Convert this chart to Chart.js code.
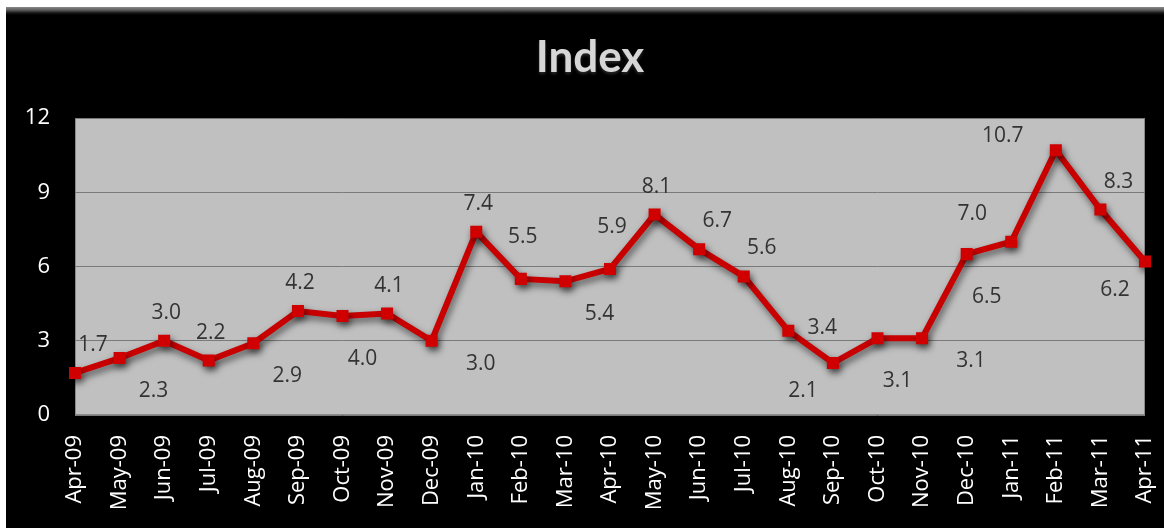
<!DOCTYPE html>
<html><head><meta charset="utf-8">
<script src="https://cdn.jsdelivr.net/npm/chart.js@4/dist/chart.umd.min.js"></script>
<style>
html,body{margin:0;padding:0;background:#fff;width:1164px;height:531px;overflow:hidden}
#box{position:absolute;left:6px;top:7px;width:1158px;height:521px;background:linear-gradient(to bottom,#8a8a8a 0px,#5e5e5e 3px,#151515 6px,#000 8px,#000 100%)}
#box canvas{position:absolute;left:0;top:0}
</style></head><body>
<div id="box"><canvas id="c" width="1158" height="521"></canvas></div>
<script>
const categories = ['Apr-09','May-09','Jun-09','Jul-09','Aug-09','Sep-09','Oct-09','Nov-09','Dec-09','Jan-10','Feb-10','Mar-10','Apr-10','May-10','Jun-10','Jul-10','Aug-10','Sep-10','Oct-10','Nov-10','Dec-10','Jan-11','Feb-11','Mar-11','Apr-11'];
const values = [1.7,2.3,3.0,2.2,2.9,4.2,4.0,4.1,3.0,7.4,5.5,5.4,5.9,8.1,6.7,5.6,3.4,2.1,3.1,3.1,6.5,7.0,10.7,8.3,6.2];
const labelAnchor = ['ne','se','n','n','se','n','s','n','ese','n','nn','se','nn','n','ne','ne','e','sw','s','ese','s','nw','w','ne','sw'];
const yTicks = [0,3,6,9,12];
const titleText = 'Index';

const anchorOffsets = {n:[2,-28],nn:[2,-42],ne:[18,-28],e:[34,-3],se:[34,33],s:[20,43],ese:[49,23],sw:[-30,28],nw:[-39,-28],w:[-53,-14]};

const shadowPlugin = {
  id:'shadow',
  beforeDatasetDraw(chart){
    const ctx = chart.ctx; ctx.save();
    ctx.shadowColor='rgba(0,0,0,0.55)'; ctx.shadowBlur=7; ctx.shadowOffsetX=2; ctx.shadowOffsetY=4;
  },
  afterDatasetDraw(chart){ chart.ctx.restore(); }
};
const labelPlugin = {
  id:'valueLabels',
  afterDatasetsDraw(chart){
    const ctx = chart.ctx; const meta = chart.getDatasetMeta(0);
    ctx.save();
    ctx.font = '21px "Open Sans"'; ctx.fillStyle = '#333333';
    ctx.textAlign='center'; ctx.textBaseline='middle';
    meta.data.forEach((pt,i)=>{
      const o = anchorOffsets[labelAnchor[i]] || [0,-28];
      ctx.fillText(values[i].toFixed(1), pt.x + o[0], pt.y + o[1]);
    });
    ctx.restore();
  }
};
const titlePlugin = {
  id:'centerTitle',
  afterDraw(chart){
    const ctx = chart.ctx;
    ctx.save();
    ctx.font = 'bold 44px Lato'; ctx.textAlign='center'; ctx.textBaseline='middle';
    ctx.shadowColor='rgba(120,120,120,0.35)'; ctx.shadowBlur=3; ctx.shadowOffsetY=2;
    ctx.fillStyle = '#d6d6d6';
    ctx.fillText(titleText, chart.width/2 + 5, 51);
    ctx.restore();
  }
};
const bgPlugin = {
  id:'plotBg',
  beforeDraw(chart){
    const {ctx, chartArea:a} = chart;
    ctx.save(); ctx.fillStyle='#c0c0c0'; ctx.fillRect(a.left,a.top,a.right-a.left,a.bottom-a.top);
    ctx.strokeStyle='#8a8a8a'; ctx.lineWidth=1; ctx.strokeRect(a.left+0.5,a.top+0.5,a.right-a.left-1,a.bottom-a.top-1);
    ctx.restore();
  }
};

new Chart(document.getElementById('c'), {
  type:'line',
  data:{ labels: categories, datasets:[{ data: values, borderColor:'#c80000', backgroundColor:'#d00000', borderWidth:6, pointStyle:'rect', pointRadius:8.5, pointHoverRadius:8.5, pointBorderWidth:0, tension:0 }]},
  options:{
    responsive:false, animation:false, events:[],
    layout:{padding:{left:0,right:19,top:111,bottom:0}},
    plugins:{
      legend:{display:false}, tooltip:{enabled:false}, title:{display:false}
    },
    scales:{
      x:{ offset:false, grid:{display:false, drawTicks:false}, border:{display:false},
          ticks:{color:'#ffffff', font:{family:'Open Sans', size:22}, minRotation:90, maxRotation:90, autoSkip:false, padding:20},
          afterFit(s){ s.height = 113; s.paddingLeft = 0; s.paddingRight = 0; } },
      y:{ min:0, max:12, grid:{color:'#7a7a7a', lineWidth:1, drawTicks:false}, border:{display:false},
          afterBuildTicks(s){ s.ticks = yTicks.map(v=>({value:v})); },
          ticks:{color:'#ffffff', font:{family:'Open Sans', size:22}, padding:25},
          afterFit(s){ s.width = 69; s.paddingTop = 0; s.paddingBottom = 0; } }
    }
  },
  plugins:[bgPlugin, shadowPlugin, labelPlugin, titlePlugin]
});
</script>
</body></html>
